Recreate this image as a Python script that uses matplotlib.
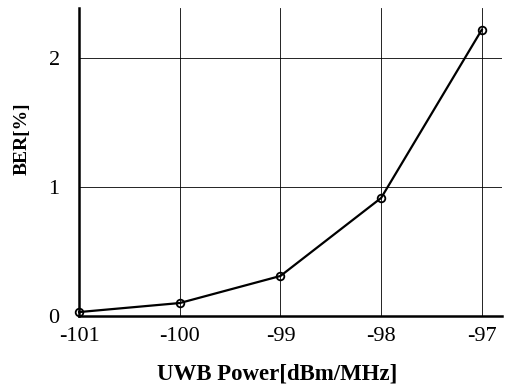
import matplotlib
matplotlib.use("Agg")
import matplotlib.pyplot as plt

power = [-101, -100, -99, -98, -97]
ber = [0.03, 0.10, 0.31, 0.915, 2.22]
xticks = [-101, -100, -99, -98, -97]
yticks = [0, 1, 2]

plt.rcParams['font.family'] = ['Liberation Serif', 'DejaVu Serif']

fig = plt.figure(figsize=(5.07, 3.91), dpi=100)
ax = fig.add_axes([0.156, 0.192, 0.834, 0.788])
ax.plot(power, ber, color='black', lw=1.6, marker='o', ms=5.5,
        mfc='none', mec='black', mew=1.3, zorder=3, clip_on=False)
ax.set_xlim(-101, -96.8)
ax.set_ylim(0, 2.39)
ax.set_xticks(xticks)
ax.set_yticks(yticks)
ax.set_xticklabels([str(v) for v in xticks], fontsize=16)
ax.set_yticklabels([str(v) for v in yticks], fontsize=16)
ax.tick_params(axis='x', length=0, pad=8)
ax.tick_params(axis='y', length=0, pad=14)
ax.grid(True, color='black', lw=0.6)
for s in ['top', 'right']:
    ax.spines[s].set_visible(False)
for s in ['left', 'bottom']:
    ax.spines[s].set_linewidth(1.8)
ax.set_xlabel('UWB Power[dBm/MHz]', fontsize=16.5, fontweight='bold')
ax.set_ylabel('BER[%]', fontsize=14, fontweight='bold')
ax.xaxis.set_label_coords(0.469, -0.155)
ax.yaxis.set_label_coords(-0.114, 0.575)
fig.savefig('out.png', dpi=100)
